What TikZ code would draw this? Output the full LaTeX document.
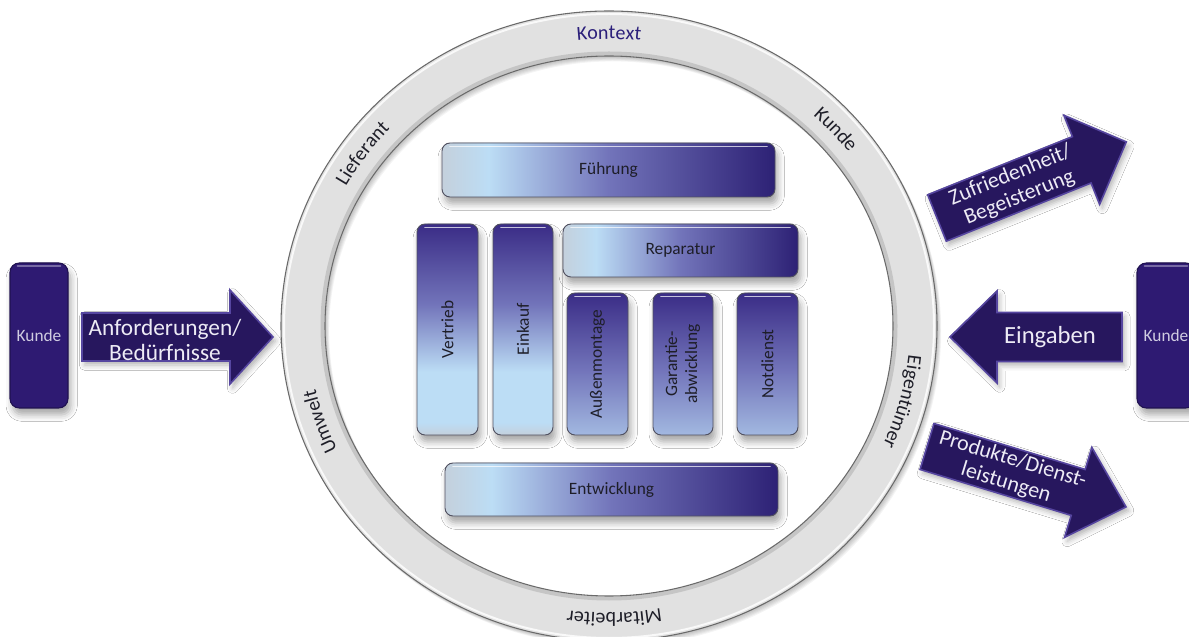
\documentclass[tikz,border=0pt]{standalone}
\usepackage{fontspec}
\setmainfont{Carlito}
\usepackage{graphicx}
\usepackage{tikz}
\usetikzlibrary{decorations.text, shadows.blur, calc}

\definecolor{lightblue}{HTML}{BCDDF5}
\definecolor{boxgrey}{HTML}{C4D0DC}
\definecolor{midpurple}{HTML}{7274BA}
\definecolor{deeppurple}{HTML}{2D2175}
\definecolor{topviolet}{HTML}{3A2C86}
\definecolor{boxedge}{HTML}{505060}
\definecolor{arrowpurple}{HTML}{27175E}
\definecolor{arrowedge}{HTML}{5646A0}
\definecolor{kundepurple}{HTML}{2E1A72}
\definecolor{ringgrey}{HTML}{E1E1E1}
\definecolor{ringedge}{HTML}{6A6A6A}
\definecolor{kontextblue}{HTML}{2B1F7A}
\definecolor{labeldark}{HTML}{1E1E28}
\definecolor{arrowtext}{HTML}{EDEBF5}

\pgfdeclarehorizontalshading{unith}{100bp}{color(0bp)=(boxgrey); color(25bp)=(boxgrey); color(32bp)=(lightblue); color(50bp)=(midpurple); color(75bp)=(deeppurple); color(100bp)=(deeppurple)}
\pgfdeclareverticalshading{unitv}{100bp}{color(0bp)=(boxgrey); color(25bp)=(boxgrey); color(28bp)=(lightblue); color(40bp)=(lightblue); color(56bp)=(midpurple); color(75bp)=(topviolet); color(100bp)=(topviolet)}
\pgfdeclareverticalshading{unitvs}{100bp}{color(0bp)=(lightblue!65!midpurple); color(25bp)=(lightblue!65!midpurple); color(48bp)=(midpurple); color(75bp)=(topviolet); color(100bp)=(topviolet)}

\newcommand{\ringfont}{\fontsize{15}{17}\selectfont}

\tikzset{
    boxsize/.style 2 args={minimum width=#1*0.75pt, minimum height=#2*0.75pt},
    unit/.style={rectangle, rounded corners=6pt, draw=boxedge, line width=0.7pt, inner sep=0pt, outer sep=0pt, text=labeldark, font=\fontsize{13}{15}\selectfont, blur shadow={shadow xshift=2pt, shadow yshift=-5pt, shadow blur radius=5pt, shadow opacity=35}},
    hunit/.style={unit, shade, shading=unith},
    vunit/.style={unit, shade, shading=unitv},
    sunit/.style={unit, shade, shading=unitvs},
    kunde/.style={rectangle, rounded corners=7pt, fill=kundepurple, draw=kundepurple!70!black, line width=0.8pt, inner sep=0pt, text=arrowtext!85!kundepurple, font=\fontsize{13}{15}\selectfont, blur shadow={shadow xshift=2pt, shadow yshift=-5pt, shadow blur radius=5pt, shadow opacity=35}},
    gloss/.style={white, opacity=0.7, line width=1.2pt, line cap=round},
    arrowbody/.style={fill=arrowpurple, draw=arrowedge, line width=1.2pt, line join=miter, blur shadow={shadow xshift=2pt, shadow yshift=-3pt, shadow blur radius=4pt, shadow opacity=30}},
    arrowlabel/.style={text=arrowtext, align=center, inner sep=0pt, font=\fontsize{17.5}{19}\selectfont},
    tiltlabel/.style={arrowlabel, font=\fontsize{16.5}{18}\selectfont},
    ringtext/.style 2 args={decorate, decoration={text along path, text align=center, text={|\ringfont\color{#1}|#2}}},
    pics/blockarrow/.style args={#1/#2/#3/#4}{code={
        \path[arrowbody] (0,-#2) -- (#1-#4,-#2) -- (#1-#4,-#3) -- (#1,0) -- (#1-#4,#3) -- (#1-#4,#2) -- (0,#2) -- cycle;
    }}
}

\begin{document}
\begin{tikzpicture}[x=0.75pt, y=0.75pt]
    \useasboundingbox (0,0) rectangle (1189,636);
    \clip (0,0) rectangle (1189,636);
    \fill[white] (0,0) rectangle (1189,636);

    \foreach \s in {1,...,6}
        \fill[black, opacity=0.045, even odd rule, shift={(\s*0.7,-\s*0.9)}] (609,310) ellipse[x radius=328, y radius=315] (609,310) ellipse[x radius=284, y radius=270];
    \fill[ringgrey, even odd rule] (609,310) ellipse[x radius=328, y radius=315] (609,310) ellipse[x radius=284, y radius=270];
    \draw[black, opacity=0.12, line width=3pt] (609,310) ellipse[x radius=286.5, y radius=272.5];
    \draw[white, opacity=0.8, line width=1.5pt] (609,310) ellipse[x radius=325, y radius=312];
    \draw[ringedge, line width=0.8pt] (609,310) ellipse[x radius=328, y radius=315] (609,310) ellipse[x radius=284, y radius=270];

    \path[ringtext={kontextblue}{Kontext}, shift={(609,310)}] (115:301 and 287) arc[start angle=115, end angle=65, x radius=301, y radius=287];
    \path[ringtext={labeldark}{Kunde}, shift={(609,310)}] (67:301 and 287) arc[start angle=67, end angle=17, x radius=301, y radius=287];
    \path[ringtext={labeldark}{Eigentümer}, shift={(609,310)}] (13:301 and 287) arc[start angle=13, end angle=-43, x radius=301, y radius=287];
    \path[ringtext={labeldark}{Mitarbeiter}, shift={(609,310)}] (298:301 and 287) arc[start angle=298, end angle=244, x radius=301, y radius=287];
    \path[ringtext={labeldark}{Umwelt}, shift={(609,310)}] (224:301 and 287) arc[start angle=224, end angle=174, x radius=301, y radius=287];
    \path[ringtext={labeldark}{Lieferant}, shift={(609,310)}] (169:301 and 287) arc[start angle=169, end angle=119, x radius=301, y radius=287];

    \node[kunde, boxsize={58}{145}] (kundeL) at (39,300.5) {Kunde};
    \node[kunde, boxsize={58}{145}] (kundeR) at (1166,300.5) {Kunde};

    \pic at (82,299) {blockarrow=191/24/47/43};
    \pic[rotate=180] at (1122,299) {blockarrow=172/24.5/46/47};
    \pic[rotate=21.9] at (937,418) {blockarrow=204/25/48/48};
    \pic[rotate=-16.9] at (927,189.5) {blockarrow=208/24/47/50};

    \node[arrowlabel] (anf) at (165,296) {Anforderungen/\\Bedürfnisse};
    \node[arrowlabel, font=\fontsize{18.5}{20}\selectfont] (ein) at (1050,299) {Eingaben};
    \node[tiltlabel, rotate=22] (zuf) at ($(937,418)+(21.9:84)$) {Zufriedenheit/\\Begeisterung};
    \node[tiltlabel, rotate=-17] (prod) at ($(927,189.5)+(-16.9:86)$) {Produkte/Dienst-\\leistungen};

    \node[hunit, boxsize={333}{54}] (fuehrung) at (608.5,466) {Führung};
    \node[hunit, boxsize={235}{53}] (reparatur) at (680.5,385.5) {Reparatur};
    \node[vunit, boxsize={61}{211}] (vertrieb) at (447.5,306.5) {\rotatebox{90}{Vertrieb}};
    \node[vunit, boxsize={60}{211}] (einkauf) at (523,306.5) {\rotatebox{90}{Einkauf}};
    \node[sunit, boxsize={61}{142}] (montage) at (597.5,272) {\rotatebox{90}{Außenmontage}};
    \node[sunit, boxsize={60}{142}] (garantie) at (683,272) {\rotatebox{90}{\begin{tabular}{@{}c@{}}Garantie-\\abwicklung\end{tabular}}};
    \node[sunit, boxsize={61}{142}] (notdienst) at (767.5,272) {\rotatebox{90}{Notdienst}};
    \node[hunit, boxsize={333}{53}] (entwicklung) at (611.5,146.5) {Entwicklung};

    \foreach \n in {fuehrung, reparatur, entwicklung, vertrieb, einkauf, montage, garantie, notdienst}
        \draw[gloss] ([xshift=6pt, yshift=-2.5pt]\n.north west) -- ([xshift=-6pt, yshift=-2.5pt]\n.north east);
    \foreach \n in {kundeL, kundeR}
        \draw[gloss, opacity=0.35] ([xshift=6pt, yshift=-2.5pt]\n.north west) -- ([xshift=-6pt, yshift=-2.5pt]\n.north east);
\end{tikzpicture}
\end{document}
